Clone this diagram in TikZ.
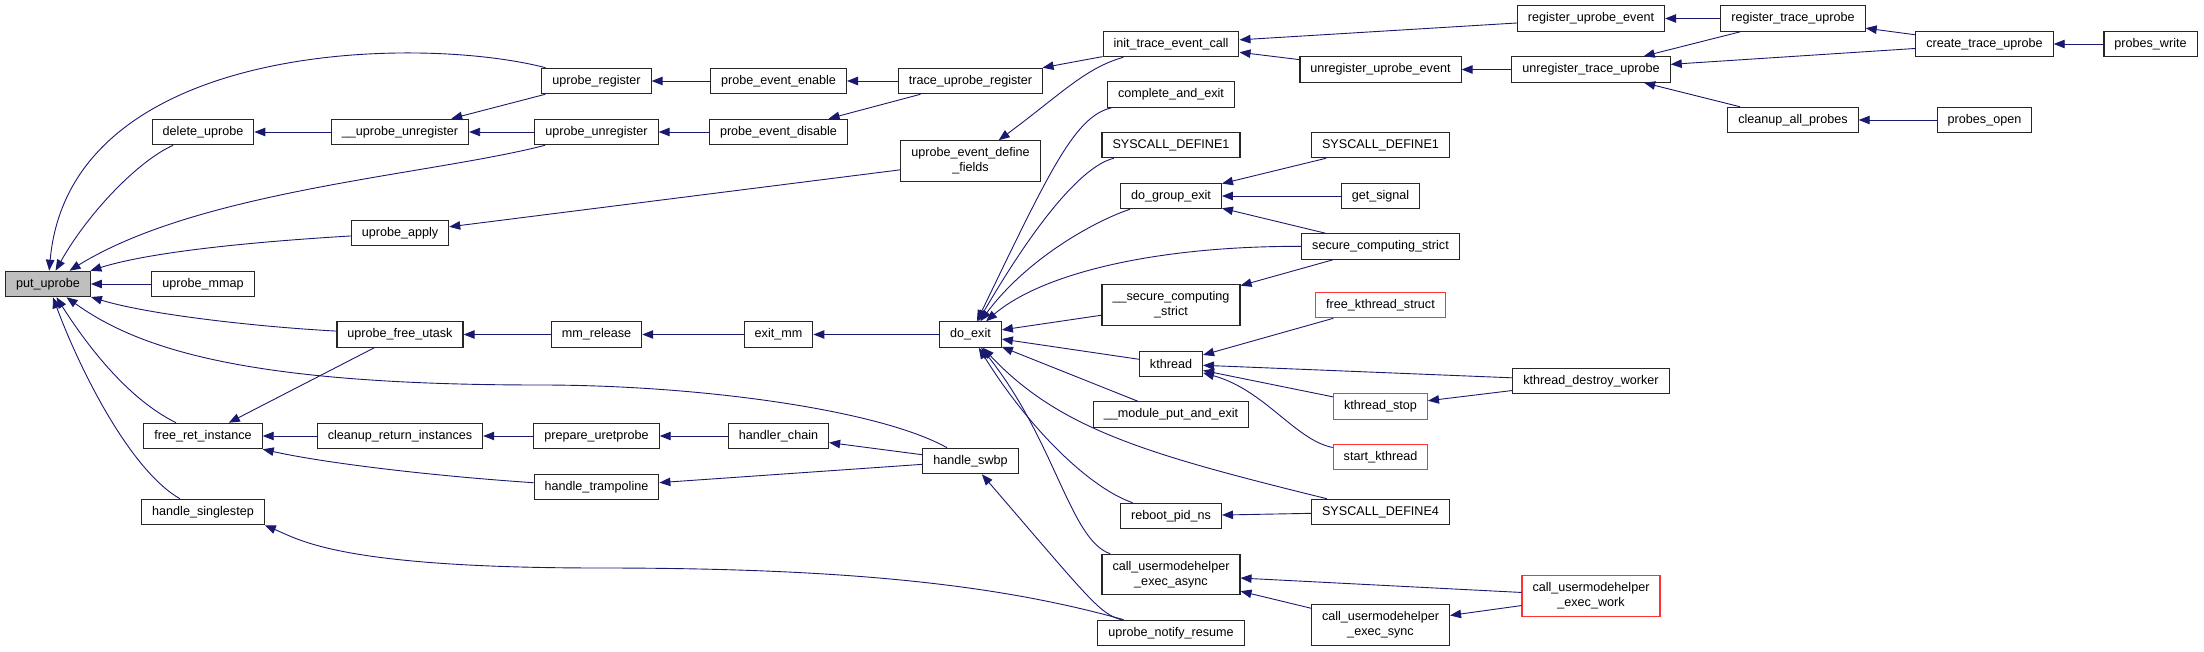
\documentclass[tikz,border=0pt]{standalone}
\usepackage{fontspec}
\setmainfont{Liberation Sans}
\usetikzlibrary{arrows.meta}
\definecolor{edgeblue}{HTML}{191970}
\definecolor{rootgray}{HTML}{BFBFBF}

\begin{document}
\begin{tikzpicture}[x = 1pt, y = -1pt,
	fnbox/.style = {draw = black!85, line width = 1.1pt, minimum height = 25.5pt, inner xsep = 10.5pt, font = \fontsize{12.6}{14.7}\selectfont},
	fntwo/.style = {fnbox, minimum height = 40.5pt, align = center},
	calls/.style = {edgeblue, line width = 0.9pt, -{Triangle[length = 11pt, width = 8.5pt]}}]
\useasboundingbox (0, 0) rectangle (2204, 652);

\node[fnbox, fill = rootgray] (put) at (48, 284) {put\_uprobe};
\node[fnbox] (delete) at (203, 132) {delete\_uprobe};
\node[fnbox] (mmap) at (203, 284) {uprobe\_mmap};
\node[fnbox] (freeret) at (203, 436) {free\_ret\_instance};
\node[fnbox] (singlestep) at (203, 512) {handle\_singlestep};
\node[fnbox] (uunreg) at (400, 132) {\_\_uprobe\_unregister};
\node[fnbox] (apply) at (400, 233) {uprobe\_apply};
\node[fnbox] (freeutask) at (400, 334.5) {uprobe\_free\_utask};
\node[fnbox] (cleanupret) at (400, 436) {cleanup\_return\_instances};
\node[fnbox] (ureg) at (596.5, 81) {uprobe\_register};
\node[fnbox] (unreg) at (596.5, 132) {uprobe\_unregister};
\node[fnbox] (mmrel) at (596.5, 334.5) {mm\_release};
\node[fnbox] (prepare) at (596.5, 436) {prepare\_uretprobe};
\node[fnbox] (trampoline) at (596.5, 487) {handle\_trampoline};
\node[fnbox] (enable) at (778.5, 81) {probe\_event\_enable};
\node[fnbox] (disable) at (778.5, 132) {probe\_event\_disable};
\node[fnbox] (exitmm) at (778.5, 334.5) {exit\_mm};
\node[fnbox] (chain) at (778.5, 436) {handler\_chain};
\node[fnbox] (tureg) at (970.5, 81) {trace\_uprobe\_register};
\node[fntwo] (deffields) at (970.5, 161) {uprobe\_event\_define\\\_fields};
\node[fnbox] (doexit) at (970.5, 334.5) {do\_exit};
\node[fnbox] (swbp) at (970.5, 461) {handle\_swbp};
\node[fnbox] (initcall) at (1171, 44) {init\_trace\_event\_call};
\node[fnbox] (complete) at (1171, 94.5) {complete\_and\_exit};
\node[fnbox] (sysdefa) at (1171, 145) {SYSCALL\_DEFINE1};
\node[fnbox] (groupexit) at (1171, 196) {do\_group\_exit};
\node[fntwo] (secstricttwo) at (1171, 305) {\_\_secure\_computing\\\_strict};
\node[fnbox] (kthread) at (1171, 364) {kthread};
\node[fnbox] (modput) at (1171, 414.5) {\_\_module\_put\_and\_exit};
\node[fnbox] (reboot) at (1171, 516) {reboot\_pid\_ns};
\node[fntwo] (async) at (1171, 574.5) {call\_usermodehelper\\\_exec\_async};
\node[fnbox] (notify) at (1171, 633) {uprobe\_notify\_resume};
\node[fnbox] (unregevent) at (1380.5, 69.5) {unregister\_uprobe\_event};
\node[fnbox] (sysdefb) at (1380.5, 145) {SYSCALL\_DEFINE1};
\node[fnbox] (getsignal) at (1380.5, 196) {get\_signal};
\node[fnbox] (secstrict) at (1380.5, 246.5) {secure\_computing\_strict};
\node[fnbox, draw = red!80] (freekstruct) at (1380.5, 305) {free\_kthread\_struct};
\node[fnbox, draw = red!80] (kstop) at (1380.5, 406.5) {kthread\_stop};
\node[fnbox, draw = red!80] (startk) at (1380.5, 457) {start\_kthread};
\node[fnbox] (sysdeffour) at (1380.5, 512) {SYSCALL\_DEFINE4};
\node[fntwo] (sync) at (1380.5, 625) {call\_usermodehelper\\\_exec\_sync};
\node[fnbox] (regevent) at (1591, 18.5) {register\_uprobe\_event};
\node[fnbox] (unregtrace) at (1591, 69.5) {unregister\_trace\_uprobe};
\node[fnbox] (destroyw) at (1591, 381) {kthread\_destroy\_worker};
\node[fntwo, draw = red!80] (work) at (1591, 596) {call\_usermodehelper\\\_exec\_work};
\node[fnbox] (regtrace) at (1793, 18.5) {register\_trace\_uprobe};
\node[fnbox] (cleanupall) at (1793, 120) {cleanup\_all\_probes};
\node[fnbox] (createtrace) at (1984.5, 44) {create\_trace\_uprobe};
\node[fnbox] (probesopen) at (1984.5, 120) {probes\_open};
\node[fnbox] (probeswrite) at (2150.5, 44) {probes\_write};

\foreach \a/\b in {mmap/put, uunreg/delete, ureg/uunreg, unreg/uunreg, enable/ureg, disable/unreg, tureg/enable, tureg/disable, initcall/tureg, deffields/apply, regevent/initcall, unregevent/initcall, unregtrace/unregevent, regtrace/regevent, regtrace/unregtrace, createtrace/unregtrace, cleanupall/unregtrace, createtrace/regtrace, probeswrite/createtrace, probesopen/cleanupall, mmrel/freeutask, exitmm/mmrel, doexit/exitmm, freeutask/freeret, cleanupret/freeret, prepare/cleanupret, chain/prepare, swbp/chain, swbp/trampoline, secstricttwo/doexit, kthread/doexit, modput/doexit, sysdefb/groupexit, getsignal/groupexit, secstrict/groupexit, secstrict/secstricttwo, freekstruct/kthread, destroyw/kthread, kstop/kthread, destroyw/kstop, sysdeffour/reboot, work/async, sync/async, work/sync}
{
	\draw[calls] (\a) -- (\b);
}

\draw[calls] (ureg) .. controls (420, 35) and (70, 40) .. (put);
\draw[calls] (delete) .. controls (140, 160) and (90, 210) .. (put);
\draw[calls] (unreg) .. controls (430, 175) and (200, 190) .. (put);
\draw[calls] (apply) .. controls (250, 242) and (150, 252) .. (put);
\draw[calls] (freeutask) .. controls (260, 327) and (150, 315) .. (put);
\draw[calls] (swbp) .. controls (880, 410) and (700, 385) .. (540, 385) .. controls (250, 385) and (140, 350) .. (put);
\draw[calls] (freeret) .. controls (130, 400) and (90, 350) .. (put);
\draw[calls] (singlestep) .. controls (130, 470) and (80, 370) .. (put);
\draw[calls] (initcall) .. controls (1085, 68) and (1060, 95) .. (deffields);
\draw[calls] (trampoline) .. controls (420, 475) and (320, 462) .. (freeret);
\draw[calls] (notify) .. controls (1100, 614) and (1090, 600) .. (swbp);
\draw[calls] (notify) .. controls (1000, 585) and (850, 568) .. (600, 568) .. controls (340, 568) and (300, 540) .. (singlestep.south east);
\draw[calls] (complete) .. controls (1075, 116) and (1050, 170) .. (doexit);
\draw[calls] (sysdefa) .. controls (1085, 165) and (1040, 215) .. (doexit);
\draw[calls] (groupexit) .. controls (1100, 219) and (1030, 255) .. (doexit);
\draw[calls] (secstrict) .. controls (1150, 246) and (1040, 275) .. (doexit);
\draw[calls] (sysdeffour) .. controls (1150, 455) and (1060, 430) .. (doexit);
\draw[calls] (reboot) .. controls (1090, 488) and (1030, 430) .. (doexit);
\draw[calls] (async) .. controls (1070, 540) and (1055, 440) .. (doexit);
\draw[calls] (startk) .. controls (1295, 440) and (1265, 390) .. (kthread);
\end{tikzpicture}
\end{document}
